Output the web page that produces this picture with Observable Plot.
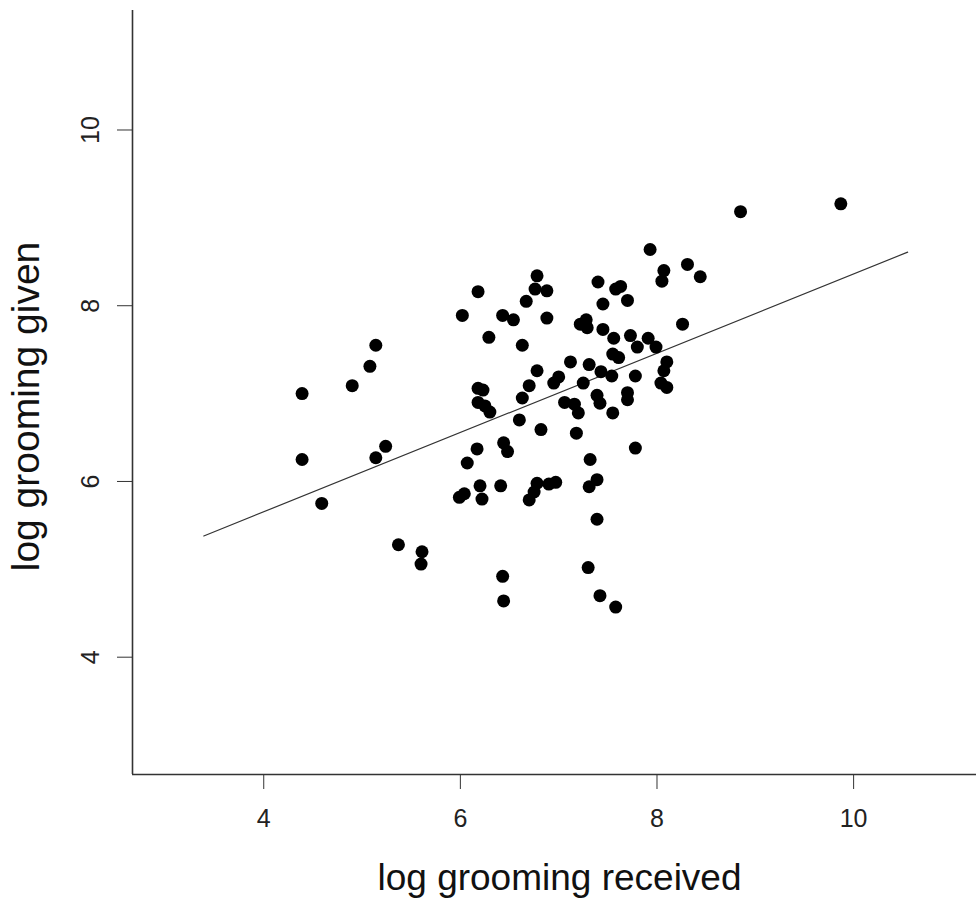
<!DOCTYPE html>
<html><head><meta charset="utf-8">
<script src="https://cdn.jsdelivr.net/npm/d3@7"></script>
<script src="https://cdn.jsdelivr.net/npm/@observablehq/plot@0.6"></script>
<style>body{margin:0;background:#fff} svg{display:block}</style>
</head><body><div id="chart"></div>
<script>
const received = [4.39,4.39,4.59,4.90,5.08,5.14,5.14,5.24,5.37,5.61,5.60,6.02,5.99,6.04,6.07,6.18,6.17,6.18,6.23,6.18,6.25,6.30,6.20,6.22,6.29,6.43,6.54,6.44,6.48,6.41,6.43,6.44,6.60,6.63,6.63,6.67,6.70,6.70,6.75,6.78,6.76,6.78,6.82,6.78,6.88,6.88,6.90,6.97,6.95,7.00,7.06,7.12,7.16,7.20,7.18,7.22,7.28,7.29,7.25,7.31,7.32,7.39,7.31,7.39,7.30,7.42,7.58,7.39,7.42,7.40,7.45,7.45,7.43,7.55,7.61,7.54,7.55,7.56,7.58,7.63,7.70,7.73,7.70,7.70,7.78,7.80,7.78,7.91,7.93,7.99,8.05,8.07,8.04,8.10,8.07,8.10,8.26,8.31,8.44,8.85,9.87];
const given = [7.00,6.25,5.75,7.09,7.31,7.55,6.27,6.40,5.28,5.20,5.06,7.89,5.82,5.86,6.21,8.16,6.37,7.06,7.04,6.90,6.86,6.79,5.95,5.80,7.64,7.89,7.84,6.44,6.34,5.95,4.92,4.64,6.70,7.55,6.95,8.05,7.09,5.79,5.88,8.34,8.19,7.26,6.59,5.98,8.17,7.86,5.97,5.99,7.12,7.19,6.90,7.36,6.88,6.78,6.55,7.79,7.84,7.75,7.12,7.33,6.25,6.02,5.94,5.57,5.02,4.70,4.57,6.98,6.89,8.27,8.02,7.73,7.25,7.45,7.41,7.20,6.78,7.63,8.19,8.22,8.06,7.66,7.01,6.93,7.20,7.53,6.38,7.63,8.64,7.53,8.28,8.40,7.12,7.07,7.26,7.36,7.79,8.47,8.33,9.07,9.16];
const fitX = [3.39, 10.55];
const fitY = [5.38, 8.61];
const xTicks = [4, 6, 8, 10];
const yTicks = [4, 6, 8, 10];
const xDomain = [2.665, 11.25];
const yDomain = [2.665, 11.36];
const xLabel = "log grooming received";
const yLabel = "log grooming given";

const points = received.map((x, i) => ({x, y: given[i]}));
const fit = fitX.map((x, i) => [x, fitY[i]]);

const chart = Plot.plot({
  width: 976, height: 898,
  marginLeft: 132, marginRight: 0, marginTop: 10, marginBottom: 124,
  style: {fontFamily: "'Liberation Sans', Arial, sans-serif", background: "#fff", color: "#222", overflow: "visible"},
  x: {domain: xDomain},
  y: {domain: yDomain},
  marks: [
    Plot.axisX({ticks: xTicks, tickSize: 15, tickPadding: 20, fontSize: 25, tickFormat: d => String(d), label: null, stroke: "#333"}),
    Plot.axisY({ticks: yTicks, tickSize: 15, tickFormat: () => "", label: null, stroke: "#333"}),
    Plot.text(yTicks, {y: d => d, text: d => String(d), frameAnchor: "left", dx: -34, rotate: -90, textAnchor: "middle", lineAnchor: "bottom", fontSize: 25, fill: "#222"}),
    Plot.ruleX([xDomain[0]], {stroke: "#333", strokeWidth: 1.6}),
    Plot.ruleY([yDomain[0]], {stroke: "#333", strokeWidth: 1.6}),
    Plot.line(fit, {stroke: "#333", strokeWidth: 1.2}),
    Plot.dot(points, {x: "x", y: "y", r: 6.5, fill: "#000", stroke: null}),
    Plot.text([xLabel], {frameAnchor: "bottom", dy: 115, dx: 5, lineAnchor: "bottom", fontSize: 37, fill: "#111"}),
    Plot.text([yLabel], {frameAnchor: "left", dx: -94, dy: 14, rotate: -90, textAnchor: "middle", lineAnchor: "bottom", fontSize: 39, fill: "#111"})
  ]
});
document.getElementById("chart").appendChild(chart);
</script>
</body></html>
